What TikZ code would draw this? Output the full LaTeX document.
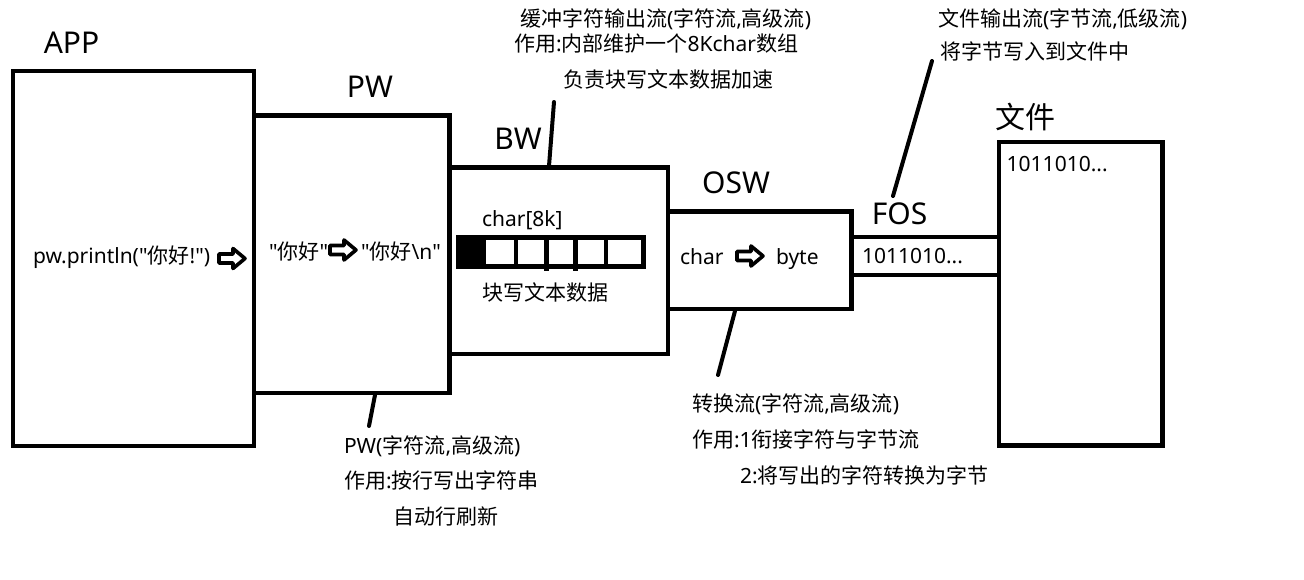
\documentclass[tikz,border=0pt]{standalone}
\usepackage{fontspec}
\setmainfont{Noto Sans}
\newfontfamily\cjkfnt{Noto Sans CJK SC}
\newcommand{\zh}[1]{{\cjkfnt #1}}
\newcommand{\qd}{\textquotedbl}
\begin{document}
\begin{tikzpicture}[x=1pt,y=-1pt,
  box/.style={draw, line width=4.4pt, inner sep=0pt, outer sep=0pt, anchor=north west},
  big/.style={font=\fontsize{30}{30}\selectfont, inner sep=0pt},
  txt/.style={font=\fontsize{21}{21}\selectfont, inner sep=0pt, outer sep=0pt, anchor=west, text height=18.5pt, text depth=2.5pt},
  lead/.style={line width=4pt, line cap=round},
  blockarrow/.pic={\draw[line width=3.6pt, line join=round, fill=white]
     (0,-4.5) -- (14,-4.5) -- (14,-10) -- (26,0) -- (14,10) -- (14,4.5) -- (0,4.5) -- cycle;}
]
\fill[white] (0,0) rectangle (1304,580);
\useasboundingbox (0,0) rectangle (1304,580);

% boxes
\node[box, minimum width=240.9pt, minimum height=375pt] (app) at (12.8,71) {};
\node[box, minimum width=195.8pt, minimum height=277.5pt] (pw) at (253.7,115.5) {};
\node[box, minimum width=218.5pt, minimum height=186.5pt] (bw) at (449.5,167.5) {};
\node[box, minimum width=183.5pt, minimum height=97.5pt] (osw) at (668,211.5) {};
\node[box, minimum width=147.5pt, minimum height=38pt] (fos) at (851.5,237) {};
\node[box, minimum width=163.5pt, minimum height=303.5pt] (file) at (999,142) {};

% titles
\node[big] (tapp) at (71.5,42.5) {APP};
\node[big] (tpw) at (370,87) {PW};
\node[big] (tbw) at (518,139) {BW};
\node[big] (tosw) at (736,182.5) {OSW};
\node[big] (tfos) at (899.5,213.5) {FOS};
\node[big] (tfile) at (1025,116.5) {\zh{文件}};

% APP / PW contents
\node[txt] (call) at (33,256) {pw.println(\qd\zh{你好}!\qd)};
\pic (a1) at (219,258.5) {blockarrow};
\node[txt] (s1) at (269,251) {\qd\zh{你好}\qd};
\pic (a2) at (330,250) {blockarrow};
\node[txt] (s2) at (361,251) {\qd\zh{你好}\textbackslash n\qd};

% BW contents
\node[txt] (c8k) at (482,218) {char[8k]};
\node[draw, line width=5pt, minimum width=185pt, minimum height=29pt, anchor=north west, inner sep=0pt, outer sep=0pt] (arr) at (458.5,237.5) {};
\fill (456,235) rectangle (486,269);
\foreach \xx in {516,606} \draw[line width=4.5pt] (\xx,237.5) -- (\xx,266.5);
\foreach \xx in {546.5,575.5} \draw[line width=4.5pt] (\xx,237.5) -- (\xx,271);
\node[txt] (blk) at (482,292.5) {\zh{块写文本数据}};

% OSW contents
\node[txt] (ch) at (680,257) {char};
\pic (a3) at (737,256) {blockarrow};
\node[txt] (by) at (776,257) {byte};

% FOS / file contents
\node[txt] (bits1) at (862,255.5) {1011010...};
\node[txt] (bits2) at (1006.7,164) {1011010...};

% annotations
\node[txt] (nb1) at (520,18.5) {\zh{缓冲字符输出流}(\zh{字符流},\zh{高级流})};
\node[txt] (nb2) at (514,43.5) {\zh{作用}:\zh{内部维护一个}8Kchar\zh{数组}};
\node[txt] (nb3) at (563,80) {\zh{负责块写文本数据加速}};
\node[txt] (nf1) at (938,18.5) {\zh{文件输出流}(\zh{字节流},\zh{低级流})};
\node[txt] (nf2) at (940,51.7) {\zh{将字节写入到文件中}};
\node[txt] (np1) at (344,445) {PW(\zh{字符流},\zh{高级流})};
\node[txt] (np2) at (344,480) {\zh{作用}:\zh{按行写出字符串}};
\node[txt] (np3) at (393,516) {\zh{自动行刷新}};
\node[txt] (no1) at (692,403) {\zh{转换流}(\zh{字符流},\zh{高级流})};
\node[txt] (no2) at (692,439) {\zh{作用}:1\zh{衔接字符与字节流}};
\node[txt] (no3) at (740,475) {2:\zh{将写出的字符转换为字节}};

% leader lines
\coordinate (lb1) at (554,102); \coordinate (lb2) at (549,166);
\coordinate (lp1) at (375,395); \coordinate (lp2) at (369,426);
\coordinate (lo1) at (735,311); \coordinate (lo2) at (718,375);
\coordinate (lf1) at (932,61);  \coordinate (lf2) at (893,196);
\draw[lead] (lb1) -- (lb2);
\draw[lead] (lp1) -- (lp2);
\draw[lead] (lo1) -- (lo2);
\draw[lead] (lf1) -- (lf2);
\end{tikzpicture}
\end{document}
